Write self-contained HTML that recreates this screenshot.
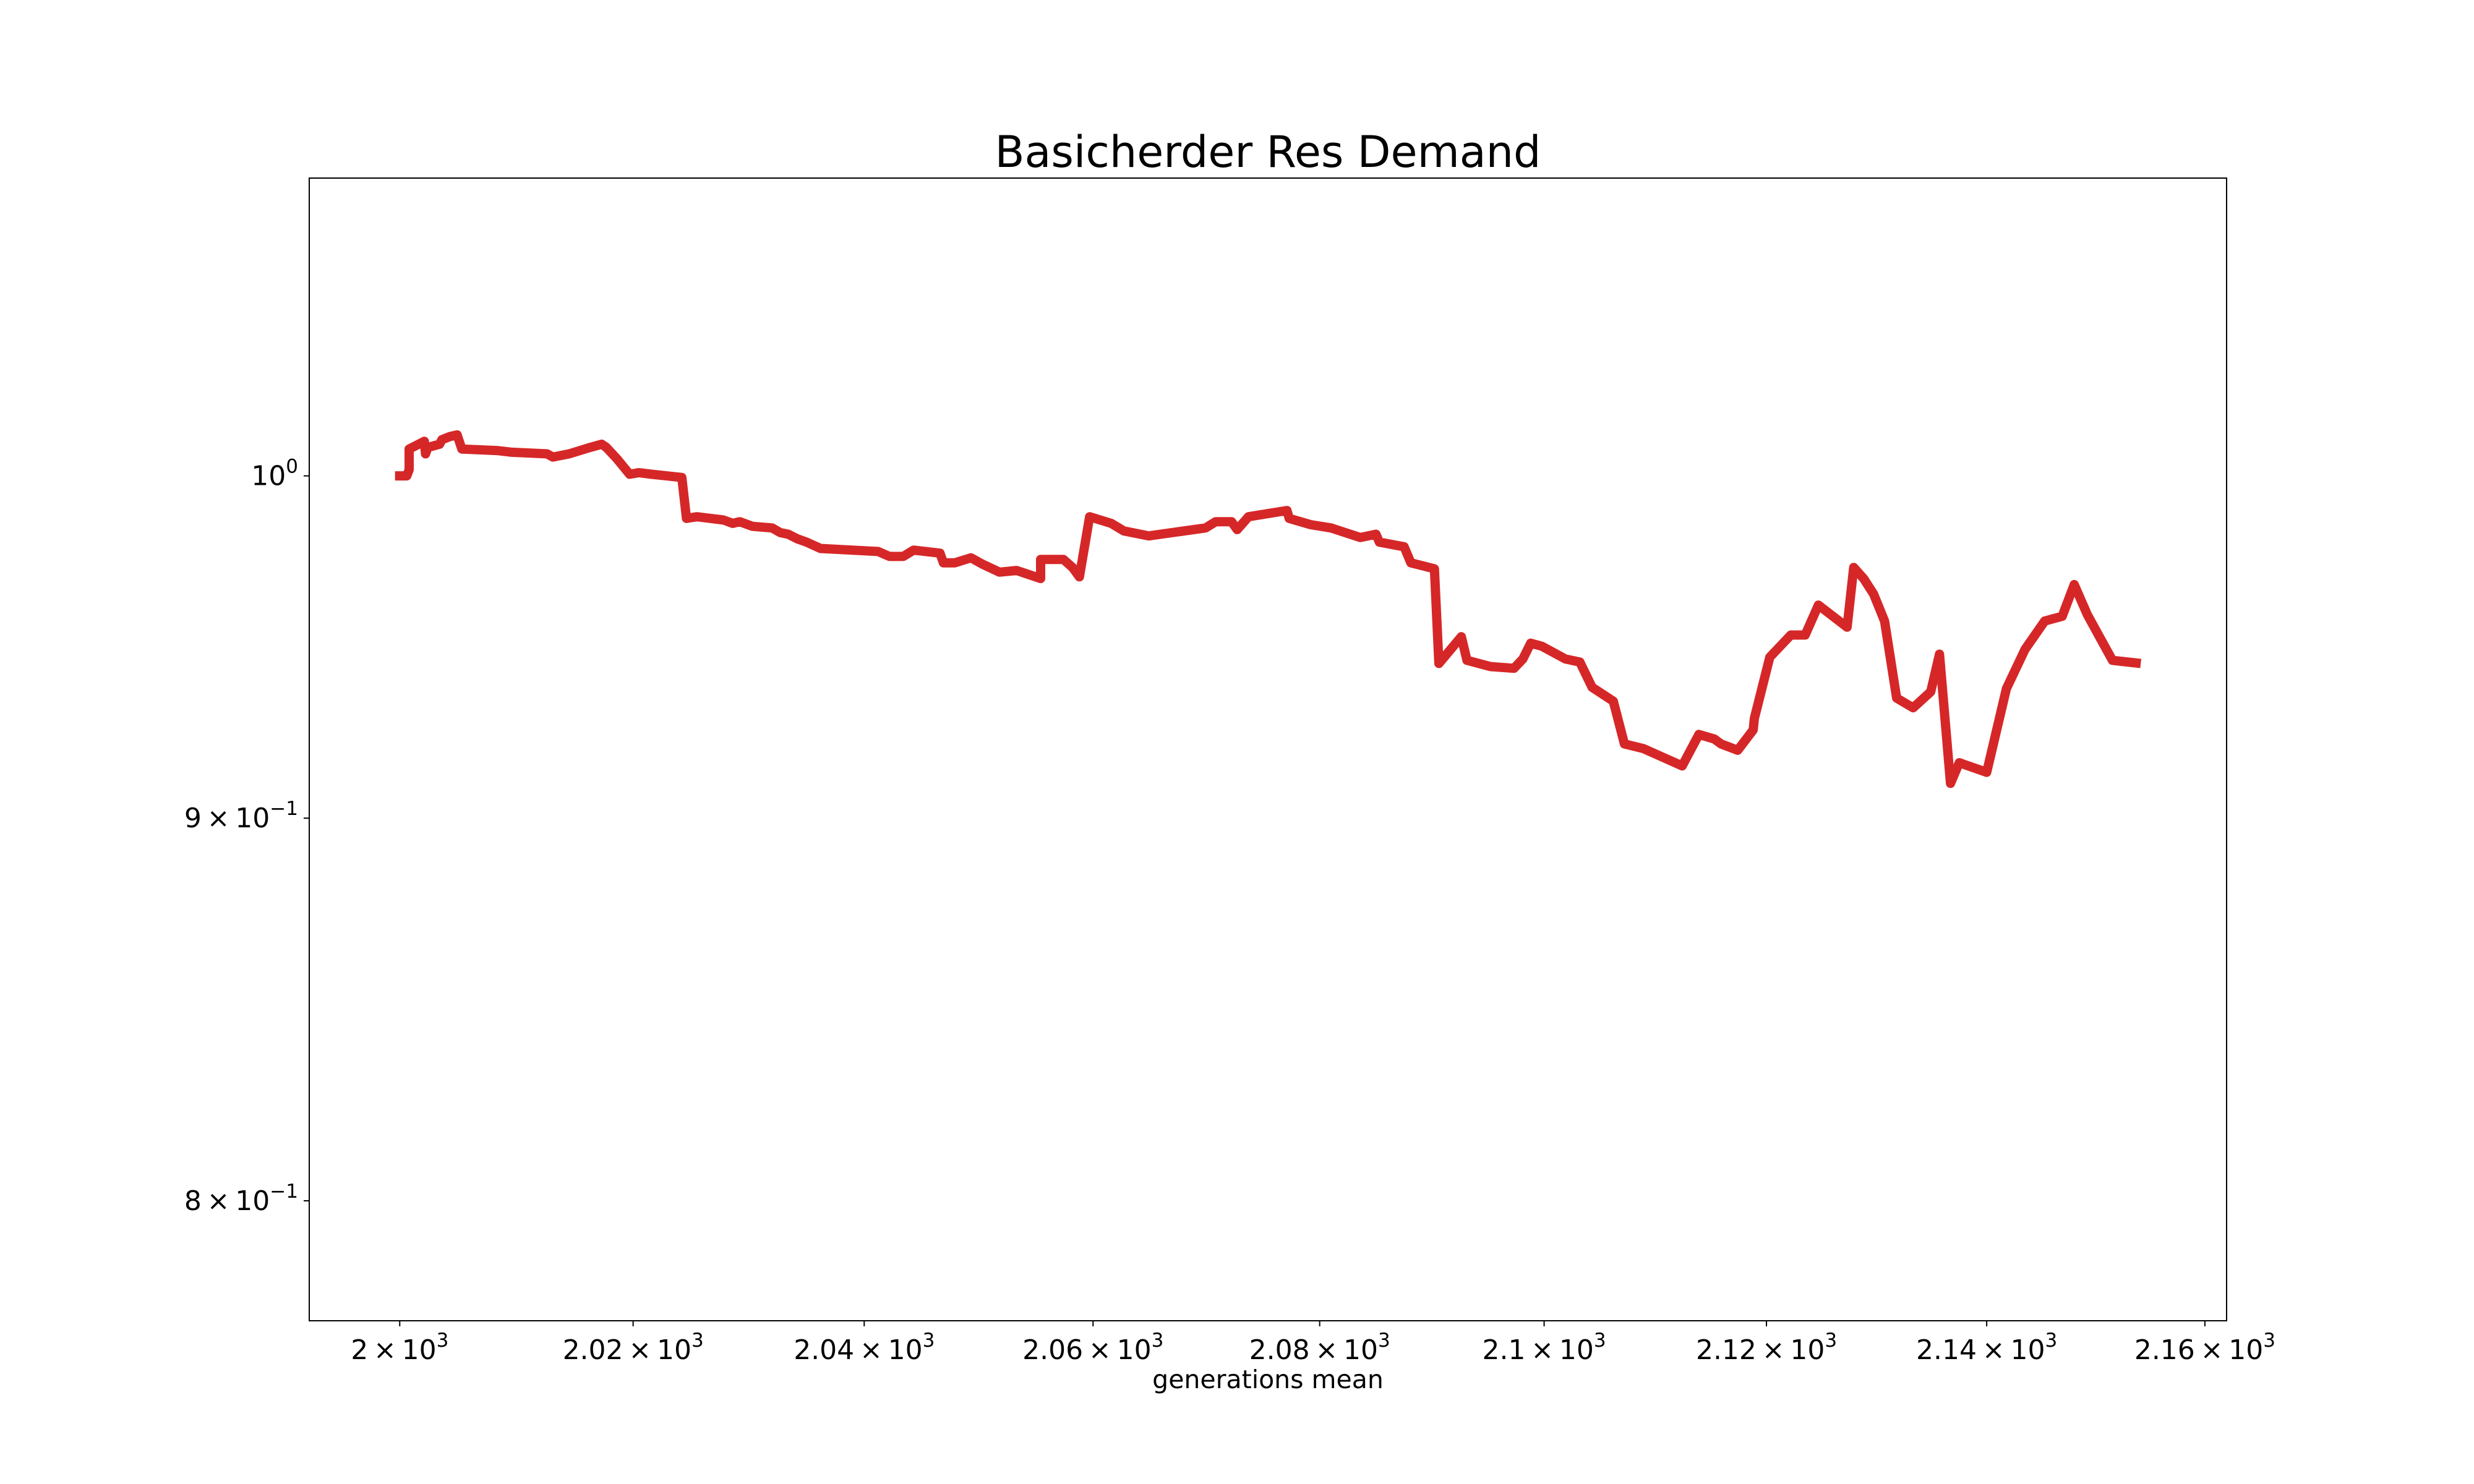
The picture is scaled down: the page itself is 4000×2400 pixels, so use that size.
<!DOCTYPE html>
<html><head><meta charset="utf-8">
<style>
html,body{margin:0;padding:0;background:#fff;}
svg{display:block;font-family:"DejaVu Sans","Liberation Sans",sans-serif;}
</style></head>
<body>
<svg id="chart" width="4000" height="2400" viewBox="0 0 4000 2400">
<rect x="0" y="0" width="4000" height="2400" fill="#fff"/>
<text x="2050" y="270" font-size="70" text-anchor="middle" fill="#000">Basicherder Res Demand</text>
<text x="2050" y="2245" font-size="41" text-anchor="middle" fill="#000">generations mean</text>
<g id="plot"></g>
<rect x="500" y="288" width="3100" height="1848" fill="none" stroke="#000" stroke-width="2"/>
<g id="axes"></g>
</svg>
<script>
const genX = [1999.6,2000.6,2000.8,2000.8,2002.1,2002.2,2002.4,2003.4,2003.6,2004.3,2004.9,2005.3,2008.4,2009.6,2012.6,2013.1,2014.5,2016.3,2017.3,2017.7,2018.6,2019.7,2020.5,2021.6,2024.2,2024.6,2025.5,2027.8,2028.6,2029.2,2030.3,2032.0,2032.7,2033.4,2034.2,2035.0,2036.2,2041.2,2042.2,2043.4,2044.3,2046.6,2046.9,2047.9,2049.3,2050.3,2051.8,2053.3,2055.4,2055.4,2057.4,2058.2,2058.8,2059.7,2061.6,2062.7,2064.9,2069.9,2070.8,2072.2,2072.7,2073.7,2077.1,2077.3,2079.2,2081.0,2083.6,2085.0,2085.3,2087.5,2088.1,2090.2,2090.6,2092.6,2093.1,2095.2,2097.3,2098.1,2098.8,2099.8,2101.9,2103.2,2104.3,2106.2,2107.2,2108.9,2112.4,2113.9,2115.3,2115.9,2117.4,2118.8,2118.9,2120.3,2122.2,2123.5,2124.7,2127.3,2127.9,2128.8,2129.7,2130.7,2131.8,2133.3,2134.9,2135.7,2136.7,2137.5,2140.0,2141.8,2143.5,2145.3,2146.9,2148.0,2149.2,2151.5,2154.1];
const demandY = [1.000,1.000,1.0019,1.0083,1.0107,1.0068,1.0088,1.0098,1.0112,1.0122,1.0127,1.0083,1.0078,1.0073,1.0068,1.0058,1.0068,1.0088,1.0098,1.0088,1.0053,1.0005,1.0010,1.0005,0.9995,0.9870,0.9875,0.9865,0.9855,0.9860,0.9846,0.9841,0.9827,0.9822,0.9808,0.9798,0.9779,0.9770,0.9755,0.9755,0.9774,0.9765,0.9736,0.9736,0.9751,0.9732,0.9708,0.9713,0.9689,0.9746,0.9746,0.9722,0.9694,0.9875,0.9855,0.9832,0.9817,0.9841,0.9860,0.9860,0.9836,0.9875,0.9894,0.9870,0.9851,0.9841,0.9812,0.9822,0.9798,0.9784,0.9736,0.9718,0.9439,0.9517,0.9448,0.9430,0.9425,0.9452,0.9498,0.9489,0.9452,0.9443,0.9370,0.9330,0.9208,0.9195,0.9146,0.9235,0.9222,0.9208,0.9190,0.9248,0.9280,0.9457,0.9522,0.9522,0.9610,0.9545,0.9722,0.9689,0.9643,0.9563,0.9339,0.9311,0.9357,0.9466,0.9097,0.9155,0.9128,0.9366,0.9480,0.9563,0.9577,0.9671,0.9582,0.9448,0.9439];
const xTicks = [2000,2020,2040,2060,2080,2100,2120,2140,2160];
const xTickLabels = ["2","2.02","2.04","2.06","2.08","2.1","2.12","2.14","2.16"];
const yTicks = [1.0,0.9,0.8];
const yTickMant = ["","9","8"];
const yTickExp = ["0","\u22121","\u22121"];

const L=500,R=3600,T=288,B=2136;
const xMin=1992.3,xMax=2162.0,yMin=0.771,yMax=1.096;
const lg=Math.log10;
function sx(v){return L+(lg(v)-lg(xMin))/(lg(xMax)-lg(xMin))*(R-L);}
function sy(v){return B-(lg(v)-lg(yMin))/(lg(yMax)-lg(yMin))*(B-T);}
const NS="http://www.w3.org/2000/svg";
const plot=document.getElementById('plot');
const axes=document.getElementById('axes');

let d='';
for(let i=0;i<genX.length;i++){d+=(i?'L':'M')+sx(genX[i]).toFixed(1)+','+sy(demandY[i]).toFixed(1);}
const line=document.createElementNS(NS,'path');
line.setAttribute('d',d);
line.setAttribute('fill','none');
line.setAttribute('stroke','#d62728');
line.setAttribute('stroke-width','15');
line.setAttribute('stroke-linejoin','round');


plot.appendChild(line);

xTicks.forEach((t,i)=>{
  const x=sx(t);
  const tk=document.createElementNS(NS,'line');
  tk.setAttribute('x1',x);tk.setAttribute('x2',x);tk.setAttribute('y1',B);tk.setAttribute('y2',B+9);
  tk.setAttribute('stroke','#000');tk.setAttribute('stroke-width','2');
  
  
  axes.appendChild(tk);
  const tx=document.createElementNS(NS,'text');
  tx.setAttribute('x',x);tx.setAttribute('y',B+62);
  tx.setAttribute('font-size','44');tx.setAttribute('text-anchor','middle');
  tx.innerHTML=xTickLabels[i]+'\u2009\u00d7\u200910<tspan font-size="31" dy="-20">3</tspan>';
  
  
  axes.appendChild(tx);
});
yTicks.forEach((t,i)=>{
  const y=sy(t);
  const tk=document.createElementNS(NS,'line');
  tk.setAttribute('x1',L-9);tk.setAttribute('x2',L);tk.setAttribute('y1',y);tk.setAttribute('y2',y);
  tk.setAttribute('stroke','#000');tk.setAttribute('stroke-width','2');
  
  
  axes.appendChild(tk);
  const tx=document.createElementNS(NS,'text');
  tx.setAttribute('x',L-18);tx.setAttribute('y',y+15);
  tx.setAttribute('font-size','44');tx.setAttribute('text-anchor','end');
  tx.innerHTML=(yTickMant[i]?yTickMant[i]+'\u2009\u00d7\u2009':'')+'10<tspan font-size="31" dy="-20">'+yTickExp[i]+'</tspan>';
  
  
  axes.appendChild(tx);
});
</script>
</body></html>
